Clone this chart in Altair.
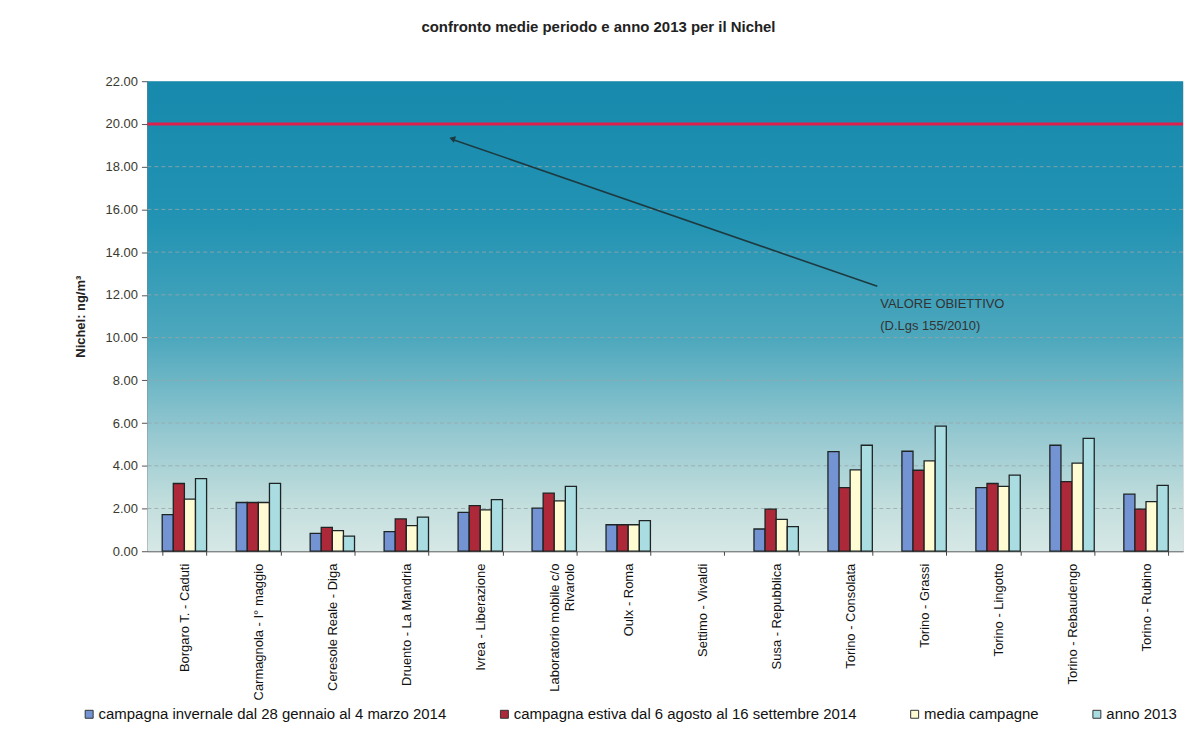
import altair as alt
import pandas as pd

stations = [
    "Borgaro T. - Caduti",
    "Carmagnola - I° maggio",
    "Ceresole Reale - Diga",
    "Druento - La Mandria",
    "Ivrea - Liberazione",
    "Laboratorio mobile c/o|Rivarolo",
    "Oulx - Roma",
    "Settimo - Vivaldi",
    "Susa - Repubblica",
    "Torino - Consolata",
    "Torino - Grassi",
    "Torino - Lingotto",
    "Torino - Rebaudengo",
    "Torino - Rubino",
]
series = [
    "campagna invernale dal 28 gennaio al 4 marzo 2014",
    "campagna estiva dal 6 agosto al 16 settembre 2014",
    "media campagne",
    "anno 2013",
]
invernale = [1.71, 2.28, 0.84, 0.92, 1.82, 2.02, 1.24, None, 1.04, 4.66, 4.68, 2.98, 4.96, 2.67]
estiva    = [3.17, 2.28, 1.12, 1.51, 2.13, 2.72, 1.24, None, 1.97, 2.98, 3.79, 3.17, 3.26, 1.97]
media     = [2.44, 2.28, 0.96, 1.20, 1.94, 2.36, 1.24, None, 1.49, 3.81, 4.23, 3.04, 4.12, 2.32]
anno2013  = [3.40, 3.18, 0.71, 1.60, 2.42, 3.04, 1.43, None, 1.15, 4.96, 5.86, 3.56, 5.28, 3.08]
colors = ["#7393d2", "#ad2838", "#fffbd2", "#a9dde2"]

target_value = 20.0
grid_values = [2, 4, 6, 8, 10, 12, 14, 16, 18]
arrow_tip = 19.3
arrow_tail = 12.4
note_text = "VALORE OBIETTIVO\n(D.Lgs 155/2010)"
note_y = 11.85

rows = []
for s, vals in zip(series, [invernale, estiva, media, anno2013]):
    for st, v in zip(stations, vals):
        if v is not None:
            rows.append({"station": st, "series": s, "value": v})
df = pd.DataFrame(rows)

W, H = 1040, 472
FONT = "Liberation Sans"

yscale = alt.Scale(domain=[0, 22], nice=False)

bg = alt.Chart(pd.DataFrame({"a": [0]})).mark_rect(
    fill=alt.LinearGradient(
        gradient="linear",
        stops=[
            alt.GradientStop(color="#1789ac", offset=0.0),
            alt.GradientStop(color="#2293b3", offset=0.3),
            alt.GradientStop(color="#4ea8bd", offset=0.55),
            alt.GradientStop(color="#95c8d0", offset=0.75),
            alt.GradientStop(color="#c2dedd", offset=0.9),
            alt.GradientStop(color="#d6e8e6", offset=1.0),
        ],
        x1=0, x2=0, y1=0, y2=1,
    )
).encode(x=alt.value(0), x2=alt.value(W), y=alt.value(0), y2=alt.value(H))

grid = alt.Chart(pd.DataFrame({"g": grid_values})).mark_rule(
    color="#9aa6a8", strokeDash=[4, 3], strokeWidth=1, opacity=0.8
).encode(y=alt.Y("g:Q", scale=yscale))

target = alt.Chart(pd.DataFrame({"t": [target_value]})).mark_rule(
    color="#e0204c", strokeWidth=3
).encode(y=alt.Y("t:Q", scale=yscale))

bars = alt.Chart(df).mark_bar(stroke="#1e2424", strokeWidth=1.3).encode(
    x=alt.X(
        "station:N",
        scale=alt.Scale(domain=stations, paddingInner=0.4, paddingOuter=0.2),
        sort=stations,
        axis=alt.Axis(
            title=None,
            labelAngle=-90,
            labelFontSize=13,
            labelFont=FONT,
            labelColor="#111",
            labelPadding=8,
            labelExpr="split(datum.label, '|')",
            labelLineHeight=15,
            tickBand="extent",
            tickSize=4,
            tickColor="#444",
            domainColor="#444",
            labelLimit=200,
        ),
    ),
    xOffset=alt.XOffset("series:N", sort=series, scale=alt.Scale(domain=series)),
    y=alt.Y(
        "value:Q",
        scale=yscale,
        axis=alt.Axis(
            title="Nichel: ng/m³",
            titleFont=FONT,
            titleFontSize=13,
            titleFontWeight="bold",
            titleColor="#222",
            titlePadding=18,
            values=[0, 2, 4, 6, 8, 10, 12, 14, 16, 18, 20, 22],
            format=".2f",
            labelFont=FONT,
            labelFontSize=13,
            labelColor="#3a3a30",
            labelPadding=4,
            tickSize=6,
            tickColor="#555",
            domainColor="#444",
            grid=False,
        ),
    ),
    color=alt.Color(
        "series:N",
        sort=series,
        scale=alt.Scale(domain=series, range=colors),
        legend=alt.Legend(
            title=None,
            orient="none",
            legendX=-66,
            legendY=628,
            direction="horizontal",
            columns=4,
            columnPadding=50,
            symbolType="square",
            symbolSize=64,
            symbolStrokeColor="#333",
            symbolStrokeWidth=1,
            labelFont=FONT,
            labelFontSize=15,
            labelColor="#111",
            labelLimit=500,
            labelOffset=2,
        ),
    ),
)

arrow_df = pd.DataFrame({"y1": [arrow_tail], "y2": [arrow_tip]})
arrow = alt.Chart(arrow_df).mark_rule(color="#1d3a40", strokeWidth=1.6).encode(
    x=alt.value(733), x2=alt.value(305),
    y=alt.Y("y1:Q", scale=yscale), y2=alt.Y2("y2:Q"),
)
head = alt.Chart(arrow_df).mark_point(
    shape="triangle", angle=289, filled=True, size=45, color="#1d3a40", opacity=1
).encode(x=alt.value(307), y=alt.Y("y2:Q", scale=yscale))

note = alt.Chart(pd.DataFrame({"t": [note_text], "y": [note_y]})).mark_text(
    align="left", baseline="top", fontSize=13, font=FONT, color="#333",
    lineBreak="\n", lineHeight=22,
).encode(x=alt.value(736), y=alt.Y("y:Q", scale=yscale), text="t:N")

chart = alt.layer(bg, grid, target, bars, arrow, head, note).properties(
    width=W,
    height=H,
    title=alt.TitleParams(
        "confronto medie periodo e anno 2013 per il Nichel",
        font=FONT, fontSize=15, fontWeight="bold", color="#222",
        anchor="middle", frame="bounds", offset=40, dx=-31,
    ),
    padding={"left": 66, "top": 11, "right": 0, "bottom": 5},
).configure_view(stroke=None).configure(background="white")

chart.save("out.html", embed_options={"renderer": "svg", "actions": False})
